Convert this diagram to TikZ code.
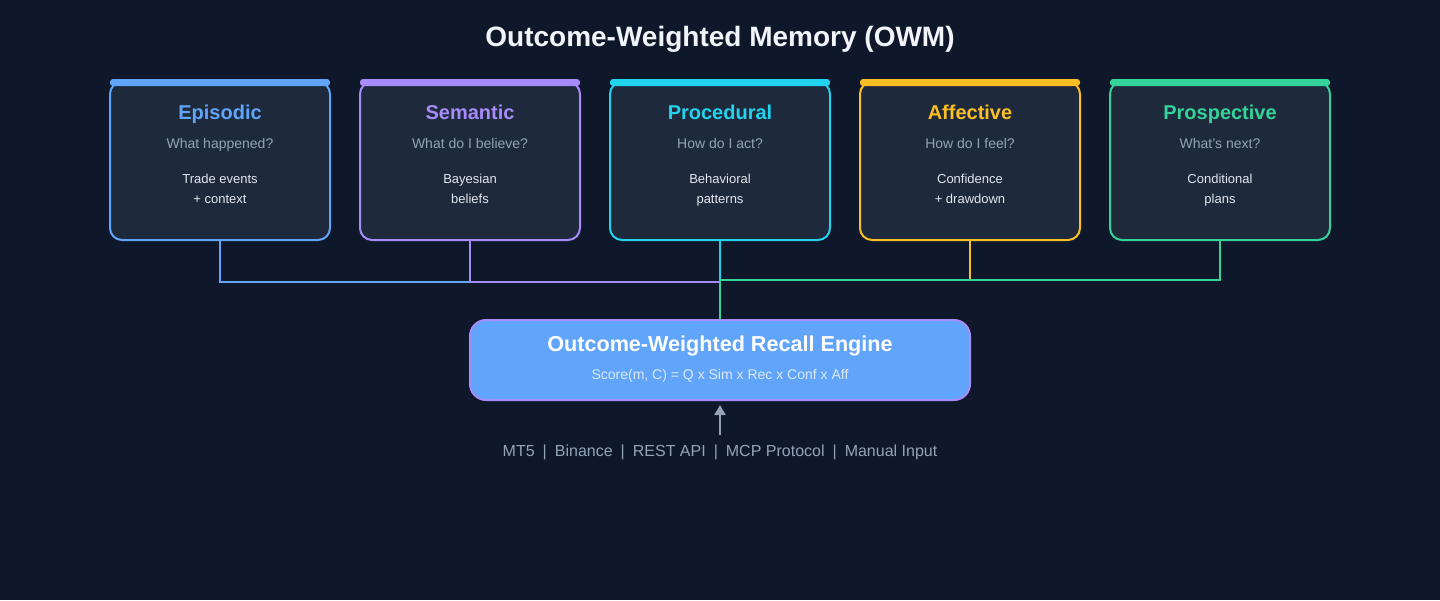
\documentclass[tikz,border=0pt]{standalone}
\usepackage{fontspec}
\setmainfont{Liberation Sans}
\usepackage{xcolor}
\usepackage{tikz}
\usetikzlibrary{arrows.meta}
\definecolor{bg}{HTML}{0F172A}
\definecolor{card}{HTML}{1E293B}
\definecolor{head}{HTML}{F1F5F9}
\definecolor{muted}{HTML}{94A3B8}
\definecolor{body}{HTML}{E2E8F0}
\definecolor{sub}{HTML}{DCE8FB}
\definecolor{blue}{HTML}{60A5FA}
\definecolor{violet}{HTML}{A78BFA}
\definecolor{cyan}{HTML}{22D3EE}
\definecolor{amber}{HTML}{FBBF24}
\definecolor{green}{HTML}{34D399}
\tikzset{
  memcard/.style={draw=#1, fill=card, line width=2pt, rounded corners=12pt,
    minimum width=220pt, minimum height=158pt, inner sep=0pt},
  topbar/.style={fill=#1, rounded corners=3pt},
  wire/.style={draw=#1, line width=1.6pt},
  ttl/.style={text=#1, anchor=base, font=\fontsize{20}{24}\selectfont\bfseries},
  ask/.style={text=muted, anchor=base, font=\fontsize{14}{16}\selectfont},
  desc/.style={text=body, anchor=base, align=center, font=\fontsize{13}{20}\selectfont},
}

\begin{document}
\begin{tikzpicture}[x=1pt, y=-1pt]
  \fill[bg] (0,0) rectangle (1440,600);
  \useasboundingbox (0,0) rectangle (1440,600);
  \node[text=head, anchor=base, font=\fontsize{28}{32}\selectfont\bfseries] (title) at (720,46) {Outcome-Weighted Memory (OWM)};

  % memory cards
  \node[memcard=blue] (epi) at (220,161) {};
  \node[memcard=violet] (sem) at (470,161) {};
  \node[memcard=cyan] (pro) at (720,161) {};
  \node[memcard=amber] (aff) at (970,161) {};
  \node[memcard=green] (prs) at (1220,161) {};
  \fill[topbar=blue] (110,79) rectangle (330,86);
  \fill[topbar=violet] (360,79) rectangle (580,86);
  \fill[topbar=cyan] (610,79) rectangle (830,86);
  \fill[topbar=amber] (860,79) rectangle (1080,86);
  \fill[topbar=green] (1110,79) rectangle (1330,86);

  \node[ttl=blue] (epit) at (220,119) {Episodic};
  \node[ask] (epiq) at (220,148) {What happened?};
  \node[desc] (epid) at (220,203) {Trade events\\+ context};
  \node[ttl=violet] (semt) at (470,119) {Semantic};
  \node[ask] (semq) at (470,148) {What do I believe?};
  \node[desc] (semd) at (470,203) {Bayesian\\beliefs};
  \node[ttl=cyan] (prot) at (720,119) {Procedural};
  \node[ask] (proq) at (720,148) {How do I act?};
  \node[desc] (prod) at (720,203) {Behavioral\\patterns};
  \node[ttl=amber] (afft) at (970,119) {Affective};
  \node[ask] (affq) at (970,148) {How do I feel?};
  \node[desc] (affd) at (970,203) {Confidence\\+ drawdown};
  \node[ttl=green] (prst) at (1220,119) {Prospective};
  \node[ask] (prsq) at (1220,148) {What's next?};
  \node[desc] (prsd) at (1220,203) {Conditional\\plans};

  % recall engine
  \node[draw=violet, fill=blue, line width=2pt, rounded corners=16pt,
    minimum width=500pt, minimum height=80pt] (eng) at (720,360) {};
  \node[text=white, anchor=base, font=\fontsize{21.6}{24}\selectfont\bfseries] (engt) at (720,351) {Outcome-Weighted Recall Engine};
  \node[text=sub, anchor=base, font=\fontsize{14}{16}\selectfont] (engs) at (720,379) {Score(m, C) = Q x Sim x Rec x Conf x Aff};

  % wiring
  \draw[wire=blue] (epi.south) -- ++(0,41) -| (eng.north);
  \draw[wire=violet] (sem.south) -- ++(0,41) -| (eng.north);
  \draw[wire=cyan] (pro.south) -- (eng.north);
  \draw[wire=amber] (aff.south) -- ++(0,39) -| (eng.north);
  \draw[wire=green] (prs.south) -- ++(0,39) -| (eng.north);

  % inputs
  \coordinate (src) at (720,435);
  \draw[draw=muted, line width=2pt, -{Triangle[length=10pt, width=11pt]}, shorten >=4pt] (src) -- (eng.south);
  \node[text=muted, anchor=base, font=\fontsize{16}{20}\selectfont] (inputs) at (720,456)
    {MT5\enspace|\enspace Binance\enspace|\enspace REST API\enspace|\enspace MCP Protocol\enspace|\enspace Manual Input};
\end{tikzpicture}
\end{document}
